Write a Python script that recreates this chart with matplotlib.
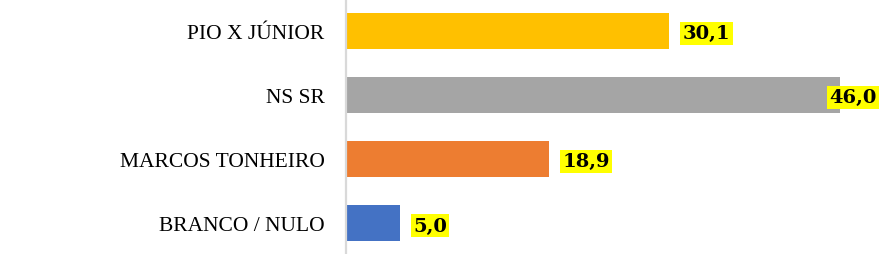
import matplotlib
matplotlib.use("Agg")
import matplotlib.pyplot as plt

categories = ["PIO X JÚNIOR", "NS SR", "MARCOS TONHEIRO", "BRANCO / NULO"]
values = [30.1, 46.0, 18.9, 5.0]
colors = ["#FFC000", "#A5A5A5", "#ED7D31", "#4472C4"]
value_labels = ["30,1", "46,0", "18,9", "5,0"]

W, H = 884, 255
fig = plt.figure(figsize=(W / 100, H / 100), dpi=100)
ax = fig.add_axes([346 / W, 0, (W - 346) / W, 1])

ypos = list(range(len(categories)))
ax.barh(ypos, values, height=0.5625, color=colors)

xmax = 50.1
ax.set_xlim(0, xmax)
ax.set_ylim(3.48, -0.5)

ax.set_yticks(ypos)
ax.set_yticklabels(categories, fontfamily="Liberation Serif", fontsize=15.5)
ax.tick_params(axis="y", length=0, pad=15.5)
ax.set_xticks([])

for s in ["top", "right", "bottom"]:
    ax.spines[s].set_visible(False)
ax.spines["left"].set_color("#D9D9D9")
ax.spines["left"].set_linewidth(1.6)

for y, v, lab in zip(ypos, values, value_labels):
    x = v + 1.25
    ha = "left"
    if x + 4.6 > xmax:
        x = xmax - 0.65
        ha = "right"
    ax.text(x, y + 0.035, lab, ha=ha, va="center", fontsize=14, fontweight="bold",
            fontfamily="DejaVu Serif",
            bbox=dict(boxstyle="square,pad=0.12", facecolor="#FFFF00", edgecolor="none"))

fig.savefig("out.png", dpi=100)
